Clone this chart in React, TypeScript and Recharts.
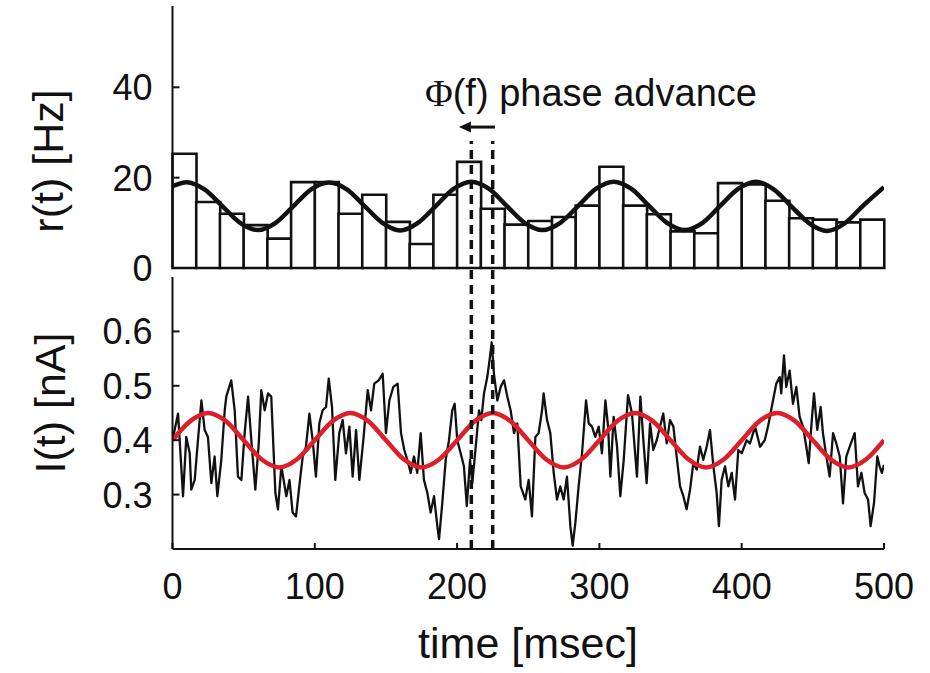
import React from 'react';
import { ComposedChart, Bar, Line, XAxis, YAxis, ReferenceLine } from 'recharts';

// ---------------- data ----------------
// histogram bins (start time of each 16.7 ms bin) and firing rate (Hz)
const binLabels = ['0', '17', '33', '50', '67', '83', '100', '117', '133', '150', '167', '183', '200', '217', '233', '250', '267', '283', '300', '317', '333', '350', '367', '383', '400', '417', '433', '450', '467', '483'];
const spikeRate = [25.3, 14.6, 12.0, 9.5, 6.5, 19.0, 19.0, 12.0, 16.2, 10.2, 5.3, 16.2, 23.5, 13.1, 9.6, 10.4, 11.3, 13.8, 22.4, 13.8, 11.9, 8.1, 7.7, 18.8, 18.5, 14.9, 11.0, 10.7, 10.1, 10.7];

// fitted rate curve r(t)
const rateFitTime = [0, 10, 22.5, 35, 47.5, 60, 72.5, 85, 97.5, 110, 122.5, 135, 147.5, 160, 172.5, 185, 197.5, 210, 222.5, 235, 247.5, 260, 272.5, 285, 297.5, 310, 322.5, 335, 347.5, 360, 372.5, 385, 397.5, 410, 422.5, 435, 447.5, 460, 472.5, 485, 500];
const rateFitHz = [18.1, 19.0, 17.4, 13.7, 10.0, 8.4, 10.0, 13.7, 17.4, 18.9, 17.4, 13.7, 10.0, 8.3, 10.0, 13.7, 17.5, 19.1, 17.5, 13.7, 10.0, 8.4, 10.0, 13.7, 17.5, 19.1, 17.5, 13.7, 10.0, 8.4, 10.0, 13.8, 17.5, 19.1, 17.4, 13.6, 9.9, 8.2, 9.9, 13.7, 17.9];

// sinusoidal input current (red)
const stimFitTime = [0, 12.5, 25, 37.5, 50, 62.5, 75, 87.5, 100, 112.5, 125, 137.5, 150, 162.5, 175, 187.5, 200, 212.5, 225, 237.5, 250, 262.5, 275, 287.5, 300, 312.5, 325, 337.5, 350, 362.5, 375, 387.5, 400, 412.5, 425, 437.5, 450, 462.5, 475, 487.5, 500];
const stimFitNA = [0.400, 0.435, 0.450, 0.435, 0.400, 0.365, 0.350, 0.365, 0.400, 0.435, 0.450, 0.435, 0.400, 0.365, 0.350, 0.365, 0.400, 0.435, 0.450, 0.435, 0.400, 0.365, 0.350, 0.365, 0.400, 0.435, 0.450, 0.435, 0.400, 0.365, 0.350, 0.365, 0.400, 0.435, 0.450, 0.435, 0.400, 0.365, 0.350, 0.365, 0.400];

// noisy input current I(t): [time ms, nA]
const currentTrace: [number, number][] = [
  [0, 0.400], [3.9, 0.449], [7.4, 0.297], [9.7, 0.406], [12.1, 0.376], [13.2, 0.309], [15.6, 0.327], [17.9, 0.400],
  [20.3, 0.473], [22.6, 0.419], [24.9, 0.406], [27.3, 0.321], [29.6, 0.370], [31.5, 0.297], [34.3, 0.364], [36.7, 0.455],
  [37.8, 0.480], [41.3, 0.510], [43.7, 0.455], [46.0, 0.333], [48.4, 0.327], [50.7, 0.413], [53.1, 0.480], [55.4, 0.400],
  [58.2, 0.309], [60.6, 0.394], [62.4, 0.492], [64.8, 0.455], [67.1, 0.486], [69.4, 0.480], [72.3, 0.303], [74.1, 0.273],
  [76.5, 0.352], [80.0, 0.297], [82.2, 0.327], [84.4, 0.267], [86.8, 0.260], [89.1, 0.315], [91.5, 0.370], [93.8, 0.388],
  [96.2, 0.449], [98.5, 0.400], [100.8, 0.333], [103.2, 0.431], [105.5, 0.455], [107.9, 0.461], [109.8, 0.513], [112.1, 0.461],
  [114.4, 0.327], [117.2, 0.413], [119.6, 0.437], [121.9, 0.376], [124.3, 0.425], [126.6, 0.333], [129.0, 0.419], [131.3, 0.327],
  [134.1, 0.400], [137.2, 0.492], [139.5, 0.455], [141.8, 0.504], [144.9, 0.510], [147.7, 0.522], [150.0, 0.413], [152.4, 0.473],
  [155.2, 0.498], [158.2, 0.504], [160.6, 0.413], [162.9, 0.382], [165.0, 0.364], [167.4, 0.340], [169.7, 0.370], [172.0, 0.340],
  [174.4, 0.413], [176.7, 0.327], [179.1, 0.303], [181.4, 0.267], [183.8, 0.297], [186.1, 0.242], [187.3, 0.218], [189.6, 0.285],
  [192.0, 0.364], [194.3, 0.400], [196.6, 0.455], [198.3, 0.467], [200.1, 0.400], [202.5, 0.376], [204.8, 0.352], [206.8, 0.279],
  [209.1, 0.364], [210.7, 0.321], [213.1, 0.388], [215.4, 0.455], [217.0, 0.437], [218.9, 0.486], [221.2, 0.516], [223.1, 0.553],
  [224.3, 0.580], [225.9, 0.522], [228.3, 0.473], [230.6, 0.498], [233.0, 0.510], [235.3, 0.480], [237.6, 0.455], [240.0, 0.413],
  [242.3, 0.431], [244.7, 0.315], [247.9, 0.291], [250.3, 0.327], [252.6, 0.260], [255.0, 0.406], [257.3, 0.413], [259.7, 0.455],
  [260.8, 0.486], [263.2, 0.437], [265.5, 0.413], [267.9, 0.340], [270.2, 0.291], [272.5, 0.315], [274.9, 0.291], [277.2, 0.333],
  [279.6, 0.242], [281.2, 0.206], [283.1, 0.248], [285.4, 0.315], [287.8, 0.376], [290.6, 0.473], [292.5, 0.431], [294.8, 0.425],
  [297.1, 0.406], [299.5, 0.425], [301.8, 0.376], [304.2, 0.473], [306.1, 0.425], [307.7, 0.333], [310.0, 0.443], [312.4, 0.388],
  [314.7, 0.297], [317.1, 0.364], [320.1, 0.483], [322.9, 0.449], [326.4, 0.333], [328.8, 0.480], [330.9, 0.400], [333.2, 0.321],
  [335.6, 0.431], [337.9, 0.382], [340.3, 0.400], [342.6, 0.425], [344.9, 0.449], [347.3, 0.394], [349.6, 0.437], [352.0, 0.425],
  [354.3, 0.370], [356.7, 0.315], [359.0, 0.297], [361.3, 0.273], [363.7, 0.309], [366.0, 0.358], [368.4, 0.346], [370.7, 0.388],
  [373.0, 0.364], [375.4, 0.388], [377.7, 0.419], [380.1, 0.352], [382.4, 0.303], [384.0, 0.242], [385.9, 0.327], [388.3, 0.352],
  [390.6, 0.315], [393.0, 0.340], [395.3, 0.291], [397.6, 0.382], [400.0, 0.376], [403.5, 0.400], [405.8, 0.394], [409.4, 0.425],
  [412.9, 0.388], [416.2, 0.400], [418.5, 0.425], [422.0, 0.473], [424.3, 0.504], [426.7, 0.516], [427.8, 0.486], [429.7, 0.556],
  [431.3, 0.498], [433.7, 0.528], [436.0, 0.467], [438.4, 0.498], [440.7, 0.443], [443.1, 0.425], [445.4, 0.388], [447.1, 0.358],
  [448.9, 0.425], [450.8, 0.486], [453.1, 0.419], [455.5, 0.461], [457.1, 0.413], [459.5, 0.370], [461.8, 0.333], [464.2, 0.413],
  [466.5, 0.394], [468.9, 0.370], [471.2, 0.284], [473.5, 0.370], [475.9, 0.388], [479.4, 0.413], [481.7, 0.315], [484.1, 0.340],
  [486.4, 0.303], [488.8, 0.291], [490.6, 0.242], [493.0, 0.285], [495.3, 0.370], [496.9, 0.352], [498.5, 0.340], [500, 0.355],
];

// phase markers (ms) and annotation arrow (from, to) in ms at rate level
const phaseMarks = [210, 225];
const arrowFromTo = [226.6, 201.3];
const arrowLevelHz = 31.2;
const dashTopNA = 0.95;

const rateTicks = [0, 20, 40];
const currentTicks = [0.3, 0.4, 0.5, 0.6];
const timeTicks = [0, 100, 200, 300, 400, 500];

// ---------------- layout / style ----------------
const W = 930;
const H = 673;
const FONT = '"Liberation Sans", Arial, Helvetica, sans-serif';
const AXIS_W = 172.5;
const RIGHT = 46;
const INK = '#111';

const rateData = binLabels.map((bin, i) => ({ bin, rate: spikeRate[i] }));
const rateFit = rateFitTime.map((t, i) => ({ t, v: rateFitHz[i] }));
const stimFit = stimFitTime.map((t, i) => ({ t, v: stimFitNA[i] }));
const traceData = currentTrace.map(([t, v]) => ({ t, v }));

const YTick = (props: any) => {
  const { x, y, payload } = props;
  return (
    <g>
      {payload.value !== 0 && (
        <line x1={x} x2={x + 7} y1={y} y2={y} stroke={INK} strokeWidth={2} />
      )}
      <text x={x - 20} y={y} dy="0.36em" textAnchor="end" fontSize={36} fontFamily={FONT} fill={INK}>
        {payload.value}
      </text>
    </g>
  );
};

const XTick = (props: any) => {
  const { x, y, payload } = props;
  return (
    <g>
      <line x1={x} x2={x} y1={y} y2={y - 6} stroke={INK} strokeWidth={2} />
      <text x={x} y={y + 50} textAnchor="middle" fontSize={36} fontFamily={FONT} fill={INK}>
        {payload.value}
      </text>
    </g>
  );
};

const ArrowShape = (p: any) => {
  const { x1, y1, x2, y2 } = p;
  const dir = x2 >= x1 ? 1 : -1;
  const head = 12;
  return (
    <g>
      <line x1={x1} y1={y1} x2={x2 - dir * head} y2={y2} stroke={INK} strokeWidth={3} />
      <polygon
        points={`${x2},${y2} ${x2 - dir * head},${y2 - 5.5} ${x2 - dir * head},${y2 + 5.5}`}
        fill={INK}
      />
      <text x={x2 - 34} y={y2 - 21} fontSize={38} fontFamily={FONT} fill={INK}>
        <tspan fontFamily='"Liberation Serif", "Times New Roman", serif'>Φ</tspan>
        <tspan>(f) phase advance</tspan>
      </text>
    </g>
  );
};

export default function App() {
  return (
    <div style={{ position: 'absolute', left: 0, top: 0, width: W, height: H, background: '#fff' }}>
      {/* top panel: firing rate histogram */}
      <div style={{ position: 'absolute', left: 0, top: 0 }}>
        <ComposedChart
          width={W}
          height={H}
          data={rateData}
          margin={{ top: 6, right: RIGHT, bottom: H - 268, left: 0 }}
          barCategoryGap={0}
        >
          <XAxis xAxisId="bins" dataKey="bin" type="category" hide />
          <XAxis xAxisId="t" dataKey="t" type="number" domain={[0, 500]} hide allowDataOverflow />
          <YAxis
            type="number"
            domain={[0, 58]}
            ticks={rateTicks}
            interval={0}
            width={AXIS_W}
            tickSize={0}
            tickMargin={0}
            tickLine={false}
            axisLine={{ stroke: INK, strokeWidth: 2 }}
            tick={<YTick />}
          />
          <Bar
            xAxisId="bins"
            dataKey="rate"
            fill="#fff"
            stroke={INK}
            strokeWidth={2.6}
            isAnimationActive={false}
          />
          <Line
            xAxisId="t"
            data={rateFit}
            dataKey="v"
            type="monotone"
            stroke={INK}
            strokeWidth={4.5}
            dot={false}
            isAnimationActive={false}
          />
          <ReferenceLine
            xAxisId="t"
            ifOverflow="visible"
            segment={[
              { x: arrowFromTo[0], y: arrowLevelHz },
              { x: arrowFromTo[1], y: arrowLevelHz },
            ]}
            shape={ArrowShape}
          />
        </ComposedChart>
      </div>

      {/* bottom panel: input current */}
      <div style={{ position: 'absolute', left: 0, top: 0 }}>
        <ComposedChart
          width={W}
          height={H}
          margin={{ top: 277, right: RIGHT, bottom: 0, left: 0 }}
        >
          <XAxis
            dataKey="t"
            type="number"
            domain={[0, 500]}
            ticks={timeTicks}
            interval={0}
            height={H - 549}
            tickSize={0}
            tickMargin={0}
            tickLine={false}
            axisLine={{ stroke: INK, strokeWidth: 2 }}
            tick={<XTick />}
            allowDataOverflow
          />
          <YAxis
            type="number"
            domain={[0.2, 0.7]}
            ticks={currentTicks}
            interval={0}
            width={AXIS_W}
            tickSize={0}
            tickMargin={0}
            tickLine={false}
            axisLine={{ stroke: INK, strokeWidth: 2 }}
            tick={<YTick />}
            allowDataOverflow
          />
          <Line
            data={traceData}
            dataKey="v"
            type="linear"
            stroke={INK}
            strokeWidth={2.3}
            strokeLinejoin="round"
            dot={false}
            isAnimationActive={false}
          />
          <Line
            data={stimFit}
            dataKey="v"
            type="monotone"
            stroke="#dc1f28"
            strokeWidth={4.5}
            dot={false}
            isAnimationActive={false}
          />
          {phaseMarks.map((m) => (
            <ReferenceLine
              key={m}
              ifOverflow="visible"
              segment={[
                { x: m, y: 0.2 },
                { x: m, y: dashTopNA },
              ]}
              stroke={INK}
              strokeWidth={3.5}
              strokeDasharray="9 6"
            />
          ))}
        </ComposedChart>
      </div>

      {/* axis titles */}
      <svg width={W} height={H} style={{ position: 'absolute', left: 0, top: 0, pointerEvents: 'none' }}>
        <text transform="translate(63,161) rotate(-90)" textAnchor="middle" fontSize={43} fontFamily={FONT} fill={INK}>
          r(t) [Hz]
        </text>
        <text transform="translate(65,403) rotate(-90)" textAnchor="middle" fontSize={43} fontFamily={FONT} fill={INK}>
          I(t) [nA]
        </text>
        <text x={528} y={658} textAnchor="middle" fontSize={43} fontFamily={FONT} fill={INK}>
          time [msec]
        </text>
      </svg>
    </div>
  );
}
